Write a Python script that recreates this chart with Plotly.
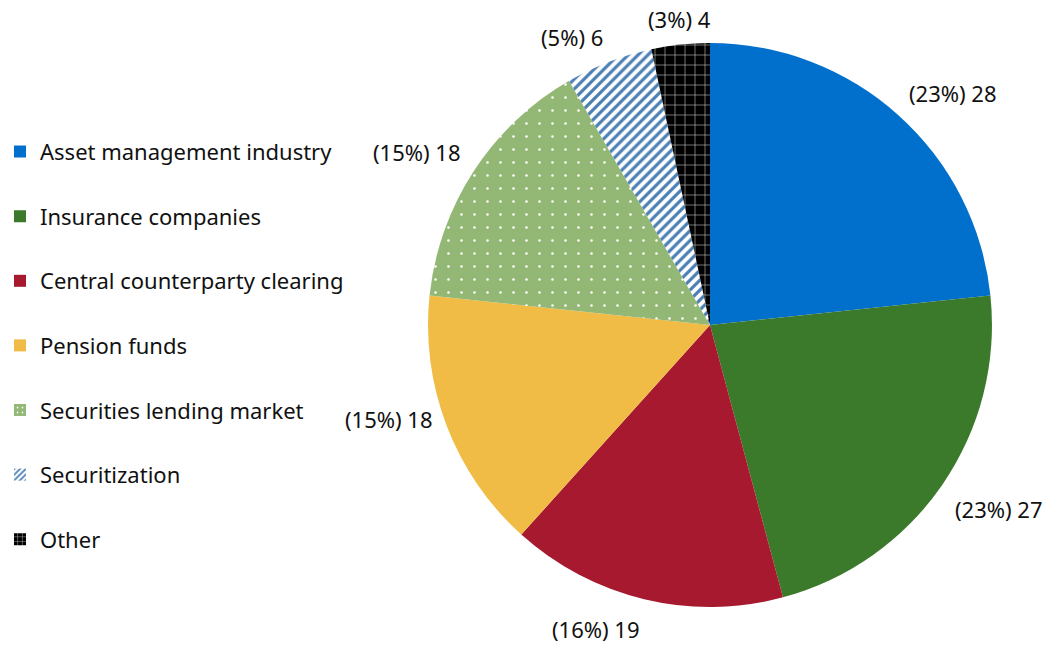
import math
import plotly.graph_objects as go

categories = ["Asset management industry", "Insurance companies", "Central counterparty clearing",
              "Pension funds", "Securities lending market", "Securitization", "Other"]
values = [28, 27, 19, 18, 18, 6, 4]

colors = ["#0070cc", "#3b7a2a", "#a6192e", "#f0bc45", "#93b876", "#ffffff", "#000000"]
shapes = ["", "", "", "", ".", "/", "+"]
fgcolors = ["#0070cc", "#3b7a2a", "#a6192e", "#f0bc45", "#ffffff", "#4a7fb5", "#e0e0e0"]
solidity = [0.3, 0.3, 0.3, 0.3, 0.03, 0.45, 0.1]
psize = [8, 8, 8, 8, 13, 7, 10]

FONT = "Noto Sans"
FS = 22
W, H = 1057, 650
DOM_X = [0.4049, 0.9385]
DOM_Y = [0.0662, 0.9338]

fig = go.Figure()
fig.add_trace(go.Pie(
    labels=categories, values=values, sort=False, direction="clockwise", rotation=0,
    marker=dict(colors=colors, line=dict(width=0),
                pattern=dict(shape=shapes, fgcolor=fgcolors, bgcolor=colors, solidity=solidity,
                             size=psize, fillmode="replace")),
    textinfo="none",
    showlegend=False, hoverinfo="label+value+percent",
    domain=dict(x=DOM_X, y=DOM_Y),
))

# outside data labels placed at each slice's mid-angle
cx = (DOM_X[0] + DOM_X[1]) / 2 * W
cy = (1 - (DOM_Y[0] + DOM_Y[1]) / 2) * H
R = min((DOM_X[1] - DOM_X[0]) * W, (DOM_Y[1] - DOM_Y[0]) * H) / 2
total = sum(values)
cum = 0
for v in values:
    mid = (cum + v / 2) / total * 2 * math.pi
    cum += v
    s, c = math.sin(mid), math.cos(mid)
    r = R + 14
    px = cx + r * s
    py = cy - r * c
    xa = "center" if abs(s) < 0.15 else ("left" if s > 0 else "right")
    ya = "bottom" if c > -0.4 else "top"
    pct = math.floor(v / total * 100 + 0.5)
    fig.add_annotation(x=px / W, y=1 - py / H, xref="paper", yref="paper",
                       text=f"({pct}%) {v}", showarrow=False,
                       xanchor=xa, yanchor=ya, borderpad=0,
                       yshift=-4 if ya == "bottom" else 0,
                       font=dict(family=FONT, size=FS, color="#111111"))

for i, cat in enumerate(categories):
    fig.add_trace(go.Bar(
        x=[None], y=[None], name=cat, legendgroup=cat,
        marker=dict(color=colors[i], line=dict(width=0),
                    pattern=dict(shape=shapes[i], fgcolor=fgcolors[i], bgcolor=colors[i],
                                 solidity=[0.3, 0.3, 0.3, 0.3, 0.1, 0.45, 0.15][i],
                                 size=[5, 5, 5, 5, 6, 5, 6][i], fillmode="replace")),
        showlegend=True,
    ))

fig.update_layout(
    width=W, height=H,
    margin=dict(l=0, r=0, t=0, b=0),
    paper_bgcolor="white", plot_bgcolor="white",
    xaxis=dict(visible=False), yaxis=dict(visible=False),
    showlegend=True,
    legend=dict(x=0, y=0.468, xanchor="left", yanchor="middle", traceorder="grouped",
                tracegroupgap=33, font=dict(family=FONT, size=FS, color="#111111"),
                bgcolor="rgba(0,0,0,0)"),
    font=dict(family=FONT),
)

fig.write_html("out.html", config={"displayModeBar": False},
               post_script="document.body.style.margin='0px';document.body.style.padding='0px';")
